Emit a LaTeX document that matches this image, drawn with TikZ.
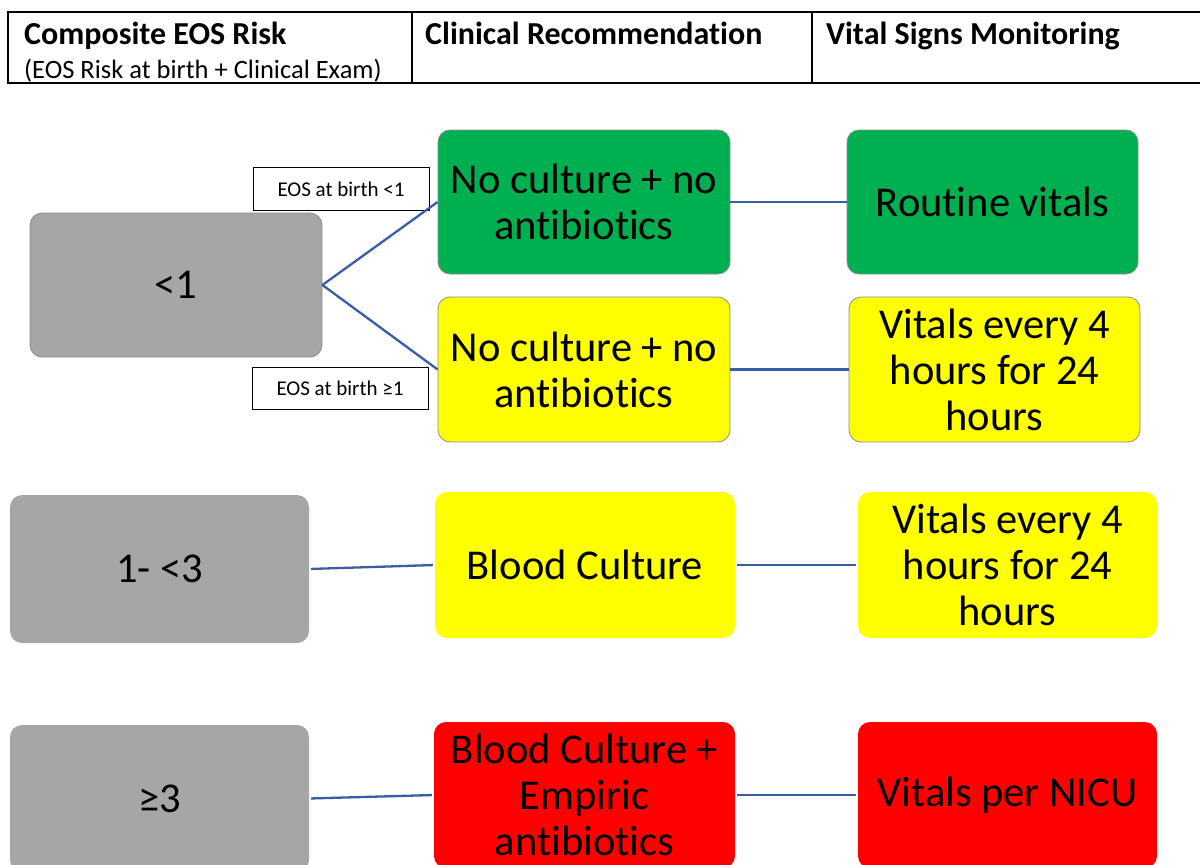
\documentclass[tikz,border=0pt]{standalone}
\usepackage{fontspec}
\setmainfont{Carlito}[Ligatures=NoCommon]
\usetikzlibrary{positioning}
\definecolor{riskgrey}{RGB}{166,166,166}
\definecolor{safegreen}{RGB}{0,176,80}
\definecolor{warnyellow}{RGB}{255,255,0}
\definecolor{alertred}{RGB}{255,0,0}
\definecolor{linkblue}{RGB}{58,92,164}
\newcommand{\boxtext}{\fontsize{42.5}{46}\selectfont}
\newcommand{\headtext}{\fontsize{32}{36}\selectfont\bfseries}
\newcommand{\subtext}{\fontsize{26.5}{30}\selectfont}
\newcommand{\labtext}{\fontsize{21}{24}\selectfont}
\tikzstyle{cell} = [rectangle, draw=black, line width=2.5pt, minimum height=71pt, inner sep=0pt]
\tikzstyle{headline} = [inner sep=0pt, anchor=base west]
\tikzstyle{tile} = [rectangle, rounded corners=12pt, minimum width=292pt, minimum height=144pt, text centered, align=center, font=\boxtext, inner sep=0pt]
\tikzstyle{edged} = [draw=black!45, line width=0.8pt]
\tikzstyle{tag} = [rectangle, draw=black, line width=1pt, minimum width=176pt, minimum height=43pt, font=\labtext, inner sep=0pt]
\tikzstyle{link} = [linkblue, line width=2.3pt]

\begin{document}
\begin{tikzpicture}[x=1pt, y=-1pt]
\useasboundingbox (0,0) rectangle (1200,865);

% header table
\node (hdrisk) [cell, minimum width=404pt] at (210,47.5) {};
\node (hdclin) [cell, minimum width=400pt] at (612,47.5) {};
\node (hdvital) [cell, minimum width=393pt] at (1008.5,47.5) {};
\node (risktitle) [headline, font=\headtext] at (24,44) {Composite EOS Risk};
\node (risksub) [headline, font=\subtext] at (24,78) {(EOS Risk at birth + Clinical Exam)};
\node (clintitle) [headline, font=\headtext] at (425,44) {Clinical Recommendation};
\node (vitaltitle) [headline, font=\headtext] at (826,44) {Vital Signs Monitoring};

% risk below 1
\node (low) [tile, edged, fill=riskgrey] at (176,285) {<1};
\node (lowgreen) [tile, edged, fill=safegreen] at (584,202) {No culture + no\\antibiotics};
\node (lowyellow) [tile, edged, fill=warnyellow, minimum height=145pt] at (584,369.5) {No culture + no\\antibiotics};
\node (routine) [tile, edged, fill=safegreen, minimum width=291pt] at (992.5,202) {Routine vitals};
\node (lowvitals) [tile, edged, fill=warnyellow, minimum width=291pt, minimum height=145pt] at (994.5,369.5) {Vitals every 4\\hours for 24\\hours};
\node (tagbelow) [tag, fill=white] at (341,189) {EOS at birth <1};
\node (tagabove) [tag, fill=white, minimum height=42pt] at (340,388) {EOS at birth ≥1};

% risk 1 to 3
\node (mid) [tile, fill=riskgrey, minimum width=299pt, minimum height=148pt] at (159.5,569) {1- <3};
\node (midculture) [tile, fill=warnyellow, minimum width=300pt, minimum height=146pt] at (585,565) {Blood Culture};
\node (midvitals) [tile, fill=warnyellow, minimum width=299pt, minimum height=146pt] at (1007.5,565) {Vitals every 4\\hours for 24\\hours};

% risk 3 and above
\node (high) [tile, fill=riskgrey, minimum width=299pt, minimum height=147pt] at (159.5,798.5) {≥3};
\node (highculture) [tile, fill=alertred, minimum width=301pt, minimum height=146pt] at (584.5,795) {Blood Culture +\\Empiric\\antibiotics};
\node (highvitals) [tile, fill=alertred, minimum width=299pt, minimum height=146pt] at (1007.5,795) {Vitals per NICU};

\draw [link] (low.east) -- (lowgreen.west);
\draw [link] (low.east) -- (lowyellow.west);
\draw [link] (lowgreen.east) -- (routine.west);
\draw [link] (lowyellow.east) -- (lowvitals.west);
\draw [link, shorten <=2pt, shorten >=2pt] (mid.east) -- (midculture.west);
\draw [link, shorten <=2pt, shorten >=2pt] (midculture.east) -- (midvitals.west);
\draw [link, shorten <=2pt, shorten >=2pt] (high.east) -- (highculture.west);
\draw [link, shorten <=2pt, shorten >=2pt] (highculture.east) -- (highvitals.west);

\end{tikzpicture}
\end{document}
